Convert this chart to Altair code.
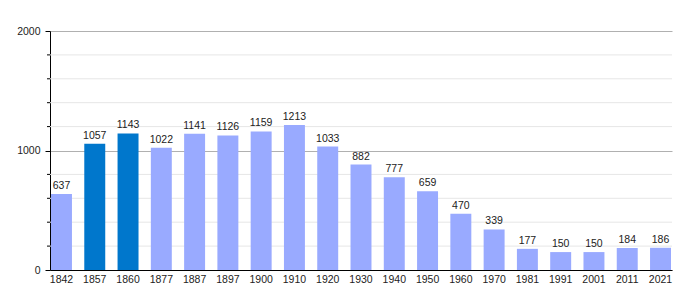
import altair as alt
import pandas as pd

years = ["1842", "1857", "1860", "1877", "1887", "1897", "1900", "1910", "1920", "1930",
         "1940", "1950", "1960", "1970", "1981", "1991", "2001", "2011", "2021"]
population = [637, 1057, 1143, 1022, 1141, 1126, 1159, 1213, 1033, 882,
              777, 659, 470, 339, 177, 150, 150, 184, 186]
highlighted = ["1857", "1860"]
major_ticks = [0, 1000, 2000]
minor_ticks = [200, 400, 600, 800, 1200, 1400, 1600, 1800]

df = pd.DataFrame({"year": years, "pop": population})
df["kind"] = ["dark" if y in highlighted else "light" for y in years]
minor_df = pd.DataFrame({"v": minor_ticks})

W, H = 622, 239
FONT = "Liberation Sans"
FS = 10.5

yscale = alt.Scale(domain=[0, 2000], nice=False)

x_enc = alt.X("year:N", sort=years, title=None,
              scale=alt.Scale(paddingInner=0.37, paddingOuter=0.03),
              axis=alt.Axis(labelAngle=0, ticks=False, domainColor="black",
                            labelPadding=4, labelFont=FONT, labelFontSize=FS,
                            labelColor="#222"))

minor_grid = alt.Chart(minor_df).mark_rule(color="#e6e6e6", strokeWidth=1).encode(
    x=alt.value(0), x2=alt.value(W), y=alt.Y("v:Q", scale=yscale)
)
minor_tick = alt.Chart(minor_df).mark_rule(color="black", strokeWidth=1).encode(
    x=alt.value(-3), x2=alt.value(0), y=alt.Y("v:Q", scale=yscale)
)

bars = alt.Chart(df).mark_bar().encode(
    x=x_enc,
    y=alt.Y("pop:Q", scale=yscale, title=None,
            axis=alt.Axis(values=major_ticks, format="d", grid=True, gridColor="#b0b0b0",
                          tickSize=5, tickColor="black", domainColor="black",
                          labelPadding=5, labelFont=FONT, labelFontSize=FS,
                          labelColor="#222")),
    color=alt.Color("kind:N", legend=None,
                    scale=alt.Scale(domain=["light", "dark"], range=["#99aaff", "#0077cc"])),
)

labels = alt.Chart(df).mark_text(baseline="bottom", dy=-3, font=FONT, fontSize=FS,
                                 color="#222").encode(
    x=alt.X("year:N", sort=years),
    y=alt.Y("pop:Q", scale=yscale),
    text=alt.Text("pop:Q"),
)

chart = alt.layer(minor_grid, bars, labels, minor_tick).properties(
    width=W, height=H,
    autosize=alt.AutoSizeParams(type="none"),
    padding={"left": 50, "top": 31, "right": 28, "bottom": 30},
).configure_view(stroke=None).configure_axis(gridOpacity=1)

chart.save("out.html", embed_options={"renderer": "svg", "actions": False})
